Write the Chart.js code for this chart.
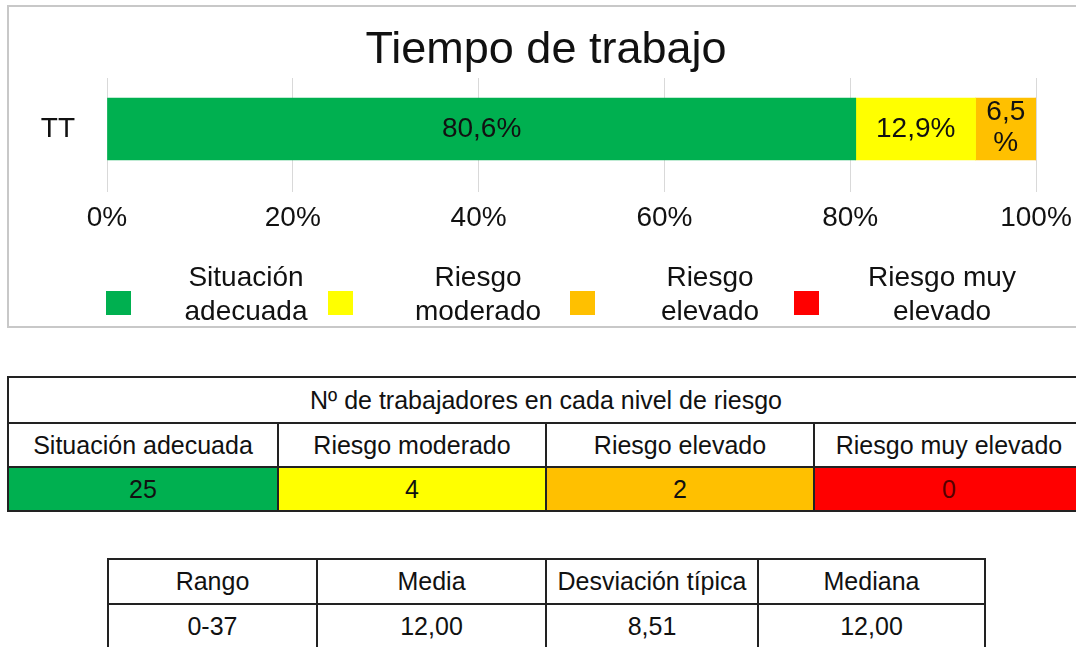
<!DOCTYPE html>
<html>
<head>
<meta charset="utf-8">
<script src="https://cdn.jsdelivr.net/npm/chart.js@4.4.0/dist/chart.umd.min.js"></script>
<style>
  body { margin: 0; width: 1076px; height: 647px; overflow: hidden; background: #fff; position: relative;
         font-family: "Liberation Sans", Arial, sans-serif; }
  #box { position: absolute; left: 7px; top: 5px; width: 1084px; height: 323px; border: 2px solid #c8c8c8; box-sizing: border-box; }
  #chart { position: absolute; left: 0; top: 0; }
  table { position: absolute; border-collapse: collapse; table-layout: fixed; font-size: 25px; color: #111; }
  td { border: 2px solid #222; text-align: center; padding: 0; white-space: nowrap; }
  #counts { left: 7px; top: 376px; width: 1076px; }
  #stats { left: 107px; top: 558px; width: 877px; }
</style>
</head>
<body>
<div id="box"></div>
<canvas id="chart" width="1092" height="328"></canvas>
<table id="counts"></table>
<table id="stats"></table>

<script>
const title = 'Tiempo de trabajo';
const rowLabels = ['TT'];
const levels = ['Situación adecuada', 'Riesgo moderado', 'Riesgo elevado', 'Riesgo muy elevado'];
const percents = [80.6, 12.9, 6.5, 0];
const workers = [25, 4, 2, 0];
const colors = ['#00b050', '#ffff00', '#ffc000', '#ff0000'];
const xTicks = [0, 20, 40, 60, 80, 100];

const statNames = ['Rango', 'Media', 'Desviación típica', 'Mediana'];
const statValues = ['0-37', '12,00', '8,51', '12,00'];

const FONT = '"Liberation Sans", Arial, sans-serif';

function fmt(v) {
  return v.toFixed(1).replace('.', ',') + '%';
}

// wrap words to a max width
function wrap(ctx, text, maxW) {
  const words = text.split(' ');
  const lines = [];
  let cur = '';
  words.forEach(w => {
    const t = cur ? cur + ' ' + w : w;
    if (cur && ctx.measureText(t).width > maxW) {
      lines.push(cur);
      cur = w;
    } else {
      cur = t;
    }
  });
  if (cur) lines.push(cur);
  return lines;
}

// value labels inside the segments
const barLabels = {
  id: 'barLabels',
  afterDatasetsDraw(chart) {
    const ctx = chart.ctx;
    ctx.save();
    ctx.font = '28px ' + FONT;
    ctx.fillStyle = '#111';
    ctx.textAlign = 'center';
    ctx.textBaseline = 'middle';
    chart.data.datasets.forEach((ds, i) => {
      const meta = chart.getDatasetMeta(i);
      meta.data.forEach((bar, j) => {
        const v = ds.data[j];
        if (!v) return;
        const txt = fmt(v);
        const w = Math.abs(bar.x - bar.base);
        const cx = (bar.x + bar.base) / 2;
        if (ctx.measureText(txt).width > w - 2) {
          // too narrow: put the % sign on a second line
          ctx.fillText(txt.slice(0, -1), cx, bar.y - 17);
          ctx.fillText('%', cx, bar.y + 14);
        } else {
          ctx.fillText(txt, cx, bar.y);
        }
      });
    });
    ctx.restore();
  }
};

// legend with wrapped labels
const boxGap = [140, 150, 140, 148];
const wrapLegend = {
  id: 'wrapLegend',
  afterDraw(chart) {
    const ctx = chart.ctx;
    const area = chart.chartArea;
    const top = chart.scales.x.bottom;
    ctx.save();
    ctx.font = '28px ' + FONT;
    ctx.textAlign = 'center';
    ctx.textBaseline = 'middle';
    levels.forEach((name, i) => {
      const cx = area.left + 139 + i * 232;
      ctx.fillStyle = colors[i];
      ctx.fillRect(cx - boxGap[i], top + 55, 25, 24);
      ctx.fillStyle = '#111';
      wrap(ctx, name, 165).forEach((ln, k) => {
        ctx.fillText(ln, cx, top + 42 + k * 34);
      });
    });
    ctx.restore();
  }
};

new Chart(document.getElementById('chart'), {
  type: 'bar',
  data: {
    labels: rowLabels,
    datasets: levels.map((name, i) => ({
      label: name,
      data: [percents[i]],
      backgroundColor: colors[i],
      borderWidth: 0,
      barThickness: 62
    }))
  },
  options: {
    indexAxis: 'y',
    responsive: false,
    animation: false,
    layout: { padding: { left: 0, right: 0, top: 0, bottom: 92 } },
    plugins: {
      legend: { display: false },
      tooltip: { enabled: false },
      title: {
        display: true,
        text: title,
        color: '#111',
        font: { family: FONT, size: 45, weight: 'normal', lineHeight: 1 },
        padding: { top: 28, bottom: 5 }
      }
    },
    scales: {
      x: {
        stacked: true,
        min: 0,
        max: 100,
        afterBuildTicks: s => { s.ticks = xTicks.map(v => ({ value: v })); },
        afterFit: s => { s.height = 56; },
        ticks: {
          color: '#111',
          font: { family: FONT, size: 28 },
          padding: 9,
          maxRotation: 0,
          callback: v => v + '%'
        },
        grid: { color: '#d9d9d9', drawTicks: true, tickLength: 12 },
        border: { display: false }
      },
      y: {
        stacked: true,
        afterFit: s => { s.width = 107; },
        ticks: {
          color: '#111',
          font: { family: FONT, size: 28 },
          padding: 32
        },
        grid: { display: false, drawTicks: false },
        border: { display: false }
      },
      // empty right axis, keeps the title centred on the frame
      yr: {
        type: 'category',
        labels: rowLabels,
        position: 'right',
        afterFit: s => { s.width = 56; },
        ticks: { display: false },
        grid: { display: false, drawTicks: false },
        border: { display: false }
      }
    }
  },
  plugins: [barLabels, wrapLegend]
});

// tables
const counts = document.getElementById('counts');
counts.innerHTML =
  '<colgroup><col style="width:270px"><col style="width:268px"><col style="width:268px"><col style="width:270px"></colgroup>' +
  `<tr><td colspan="4" style="height:44px">Nº de trabajadores en cada nivel de riesgo</td></tr>` +
  '<tr>' + levels.map(l => `<td style="height:42px">${l}</td>`).join('') + '</tr>' +
  '<tr>' + workers.map((n, i) => `<td style="height:42px;background:${colors[i]};color:${i === 3 ? '#500' : '#111'}">${n}</td>`).join('') + '</tr>';

const stats = document.getElementById('stats');
stats.innerHTML =
  '<colgroup><col style="width:209px"><col style="width:229px"><col style="width:212px"><col style="width:227px"></colgroup>' +
  '<tr>' + statNames.map(s => `<td style="height:43px">${s}</td>`).join('') + '</tr>' +
  '<tr>' + statValues.map(s => `<td style="height:43px">${s}</td>`).join('') + '</tr>';
</script>
</body>
</html>
